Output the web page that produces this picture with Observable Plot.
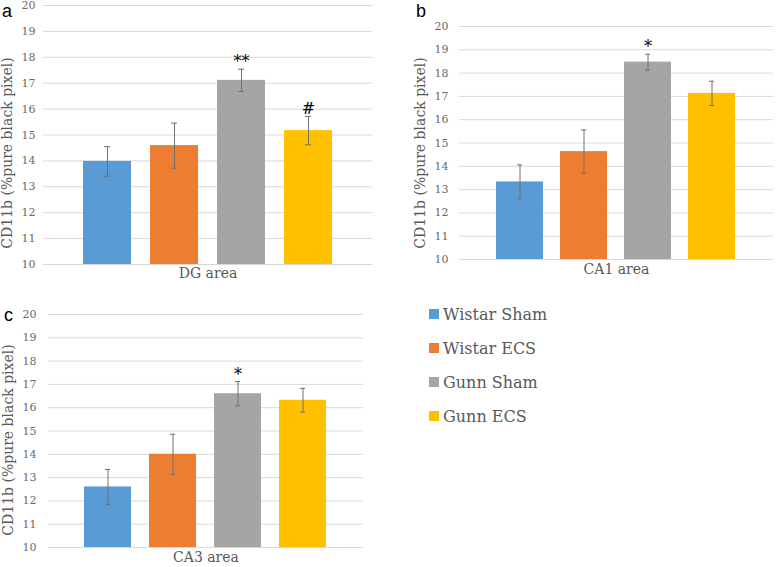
<!DOCTYPE html>
<html>
<head>
<meta charset="utf-8">
<script src="https://cdn.jsdelivr.net/npm/d3@7"></script>
<script src="https://cdn.jsdelivr.net/npm/@observablehq/plot@0.6"></script>
<style>
  html, body { margin: 0; padding: 0; background: #fff; }
  #root { position: relative; width: 778px; height: 567px; overflow: hidden; font-family: "DejaVu Serif", serif; }
  .panel { position: absolute; }
  .plabel { position: absolute; font-family: "Liberation Sans", Arial, sans-serif; font-size: 18px; color: #000; line-height: 1; }
  .legend { position: absolute; left: 429px; top: 0; }
  .litem { position: absolute; left: 0; display: flex; align-items: center; white-space: nowrap; }
  .lswatch { width: 10px; height: 10px; margin-right: 4px; }
  .ltext { font-family: "DejaVu Serif", serif; font-size: 16px; color: #595959; }
</style>
</head>
<body>
<div id="root"></div>
<script>
// ---- data ----
const groups = ["Wistar Sham", "Wistar ECS", "Gunn Sham", "Gunn ECS"];
const colors = ["#5B9BD5", "#ED7D31", "#A5A5A5", "#FFC000"];
const yTicks = [10, 11, 12, 13, 14, 15, 16, 17, 18, 19, 20];
const yLabel = "CD11b (%pure black pixel)";

const dgMean = [13.98, 14.59, 17.11, 15.17];
const dgErr  = [0.57, 0.87, 0.43, 0.55];
const dgSig  = ["", "", "**", "#"];

const ca1Mean = [13.33, 14.63, 18.47, 17.13];
const ca1Err  = [0.73, 0.93, 0.34, 0.52];
const ca1Sig  = ["", "", "*", ""];

const ca3Mean = [12.60, 14.00, 16.60, 16.32];
const ca3Err  = [0.75, 0.86, 0.52, 0.51];
const ca3Sig  = ["", "", "*", ""];

const root = document.getElementById("root");

function panel(opts) {
  const {title, means, errs, sigs, left, top, width, height, mt, mb, ml, mr, pi, po, tickPad, labelOffset, labelDy, titleDy, letter, letterX, letterY} = opts;
  const rows = groups.map((g, i) => ({group: g, mean: means[i], err: errs[i], lo: means[i] - errs[i], hi: means[i] + errs[i], sig: sigs[i]}));
  const chart = Plot.plot({
    width, height,
    marginTop: mt, marginBottom: mb, marginLeft: ml, marginRight: mr,
    style: {fontFamily: "DejaVu Serif, serif", background: "white", overflow: "visible"},
    x: {domain: groups, paddingInner: pi, paddingOuter: po, axis: null},
    y: {domain: [10, 20]},
    color: {domain: groups, range: colors},
    marks: [
      Plot.ruleY(yTicks, {stroke: "#d9d9d9", strokeWidth: 1}),
      Plot.axisY(yTicks, {
        tickSize: 0, tickPadding: tickPad, fontSize: 11, fill: "#6a6a6a",
        label: null
      }),
      Plot.text([yLabel], {frameAnchor: "left", textAnchor: "middle", rotate: -90, dx: -labelOffset, dy: labelDy, lineAnchor: "top", fontSize: 14, fill: "#595959"}),
      Plot.barY(rows, {x: "group", y1: 10, y2: "mean", fill: "group"}),
      Plot.ruleX(rows, {x: "group", y1: "lo", y2: "hi", stroke: "#707070", strokeWidth: 1}),
      Plot.tickY(rows, {x: "group", y: "lo", stroke: "#707070", strokeWidth: 1, insetLeft: 21, insetRight: 21}),
      Plot.tickY(rows, {x: "group", y: "hi", stroke: "#707070", strokeWidth: 1, insetLeft: 21, insetRight: 21}),
      Plot.text(rows.filter(d => d.sig), {x: "group", y: "hi", text: "sig", lineAnchor: "bottom", dy: -2, fontSize: 16, fill: "#000"}),
      Plot.text([title], {frameAnchor: "bottom", dy: titleDy, fontSize: 14, fill: "#595959"})
    ]
  });
  const wrap = document.createElement("div");
  wrap.className = "panel";
  wrap.style.left = left + "px";
  wrap.style.top = top + "px";
  wrap.appendChild(chart);
  root.appendChild(wrap);
  const lab = document.createElement("div");
  lab.className = "plabel";
  lab.textContent = letter;
  lab.style.left = letterX + "px";
  lab.style.top = letterY + "px";
  root.appendChild(lab);
}

panel({title: "DG area", means: dgMean, errs: dgErr, sigs: dgSig,
  left: 0, top: 0, width: 380, height: 290, mt: 5, mb: 26, ml: 43, mr: 8,
  pi: 0.28, po: 0.56, tickPad: 8, labelOffset: 41, labelDy: 18, titleDy: 13,
  letter: "a", letterX: 2, letterY: 2});

panel({title: "CA1 area", means: ca1Mean, errs: ca1Err, sigs: ca1Sig,
  left: 390, top: 0, width: 388, height: 290, mt: 26, mb: 31, ml: 69, mr: 5,
  pi: 0.26, po: 0.55, tickPad: 11, labelOffset: 44, labelDy: 10, titleDy: 14,
  letter: "b", letterX: 416, letterY: 2});

panel({title: "CA3 area", means: ca3Mean, errs: ca3Err, sigs: ca3Sig,
  left: 0, top: 290, width: 380, height: 277, mt: 24, mb: 20, ml: 48, mr: 17,
  pi: 0.27, po: 0.53, tickPad: 12, labelOffset: 45, labelDy: 9, titleDy: 14,
  letter: "c", letterX: 4, letterY: 306});

// legend
const legend = document.createElement("div");
legend.className = "legend";
root.appendChild(legend);
const legendCenters = [314, 348, 382, 416];
groups.forEach((g, i) => {
  const item = document.createElement("div");
  item.className = "litem";
  item.style.top = (legendCenters[i] - 11) + "px";
  item.style.height = "22px";
  const sw = document.createElement("div");
  sw.className = "lswatch";
  sw.style.background = colors[i];
  const tx = document.createElement("span");
  tx.className = "ltext";
  tx.textContent = g;
  item.appendChild(sw);
  item.appendChild(tx);
  legend.appendChild(item);
});
</script>
</body>
</html>
